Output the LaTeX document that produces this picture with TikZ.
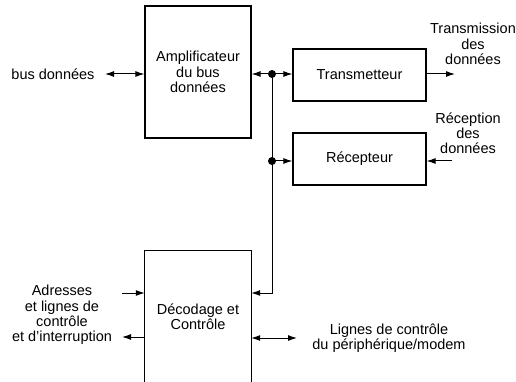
\documentclass[tikz,border=0pt]{standalone}
\usepackage{fontspec}
\setmainfont{Liberation Sans}
\usetikzlibrary{arrows.meta,calc}
\begin{document}
\begin{tikzpicture}[x=1pt,y=-1pt,
  every node/.style={font=\fontsize{14.5}{15.2}\selectfont, inner sep=0pt},
  box/.style={draw, line width=1.2pt, minimum width=106pt},
  sbox/.style={draw, line width=1.2pt, minimum width=133pt, minimum height=52pt},
  lbl/.style={align=center},
  conn/.style={line width=1pt},
  arr/.style={conn, -{Latex[length=9pt,width=6pt]}},
  darr/.style={conn, {Latex[length=9pt,width=6pt]}-{Latex[length=9pt,width=6pt]}},
  dot/.style={circle, fill, minimum size=8pt, inner sep=0pt}]
\useasboundingbox (0,0) rectangle (516,382);
% blocks
\node[box, minimum height=132pt, align=center] (amp) at (198,72) {Amplificateur\\du bus\\données};
\node[sbox] (trans) at (359.5,75) {Transmetteur};
\node[sbox] (recep) at (359.5,159) {Récepteur};
\node[minimum width=106pt, minimum height=131pt, align=center] (dec) at (198,316.5) {Décodage et\\Contrôle};
\draw[line width=1.2pt] (dec.south west) -- (dec.north west) -- (dec.north east) -- (dec.south east);
% labels
\node[lbl] (busl) at (53,74) {bus données};
\node[lbl] (txl) at (473,44) {Transmission\\des\\données};
\node[lbl] (rxl) at (468,133) {Réception\\des\\données};
\node[lbl] (adl) at (62,315) {Adresses\\et lignes de\\contrôle\\et d’interruption};
\node[lbl] (ctl) at (389,338.5) {Lignes de contrôle\\du périphérique/modem};
% junctions
\node[dot] (j1) at (272,74) {};
\node[dot] (j2) at (272,161) {};
\coordinate (busend) at (105,74);
\coordinate (txend) at (455,74);
\coordinate (rxend) at (452,161);
\coordinate (c1) at (272,293);
\coordinate (adin) at (122,293);
\coordinate (adout) at (122,337);
\coordinate (ctend) at (297,338);
% connectors
\draw[darr] (busend) -- (amp.west |- busend);
\draw[arr] (j1.center) -- (amp.east |- j1);
\draw[arr] (j1.center) -- (trans.west |- j1);
\draw[arr] (trans.east |- txend) -- (txend);
\draw[arr] (j2.center) -- (recep.west |- j2);
\draw[arr] (rxend) -- (recep.east |- rxend);
\draw[arr] (j1.center) -- (c1) -- (dec.east |- c1);
\draw[arr] (adin) -- (dec.west |- adin);
\draw[arr] (dec.west |- adout) -- (adout);
\draw[darr] (dec.east |- ctend) -- (ctend);
\end{tikzpicture}
\end{document}
